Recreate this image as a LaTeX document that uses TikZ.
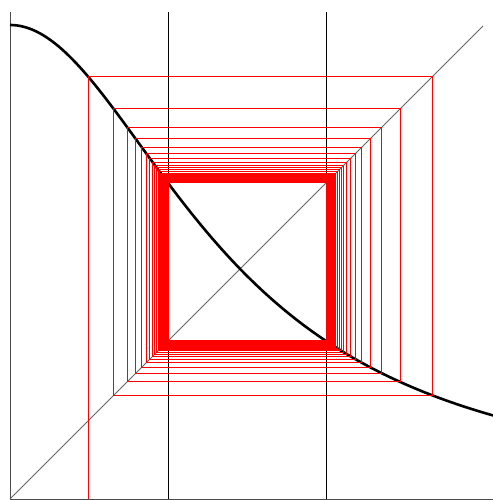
\documentclass[tikz,border=0pt]{standalone}
\tikzset{
  axisline/.style={draw=black!70,line width=0.9bp},
  cycleline/.style={draw=black,line width=0.9bp},
  diagline/.style={draw=black!60,line width=0.8bp},
  curveline/.style={draw=black,line width=2.6bp},
  cobline/.style={draw=red,line width=1bp,line join=miter}
}
\begin{document}
\begin{tikzpicture}[x=1bp,y=1bp]
\useasboundingbox (0,0) rectangle (493,500);
\fill[white] (0,0) rectangle (493,500);
\begin{scope}[shift={(10bp,1bp)},x=158bp,y=158bp]
  % axes
  \draw[axisline] (0,3.082) -- (0,0) -- (3.06,0);
  % diagonal
  \draw[diagline] (0,0) -- (2.994,2.994);
  % vertical lines at the 2-cycle
  \draw[cycleline] (1,0) -- (1,3.082);
  \draw[cycleline] (2,0) -- (2,3.082);
  % curve
  \draw[curveline] plot[domain=0:3.06,samples=150,smooth] (\x,{6/(2+\x*\x)});
  % cobweb: build one path
  \pgfmathsetmacro{\xzero}{0.4937}
  \xdef\cx{\xzero}
  \xdef\cobpath{(\xzero,0)}
  \foreach \i in {1,...,160}{
    \pgfmathsetmacro{\fy}{6/(2+\cx*\cx)}
    \xdef\cobpath{\cobpath -- (\cx,\fy) -- (\fy,\fy)}
    \xdef\cx{\fy}
  }
  \draw[cobline] \cobpath;
\end{scope}
\end{tikzpicture}
\end{document}
